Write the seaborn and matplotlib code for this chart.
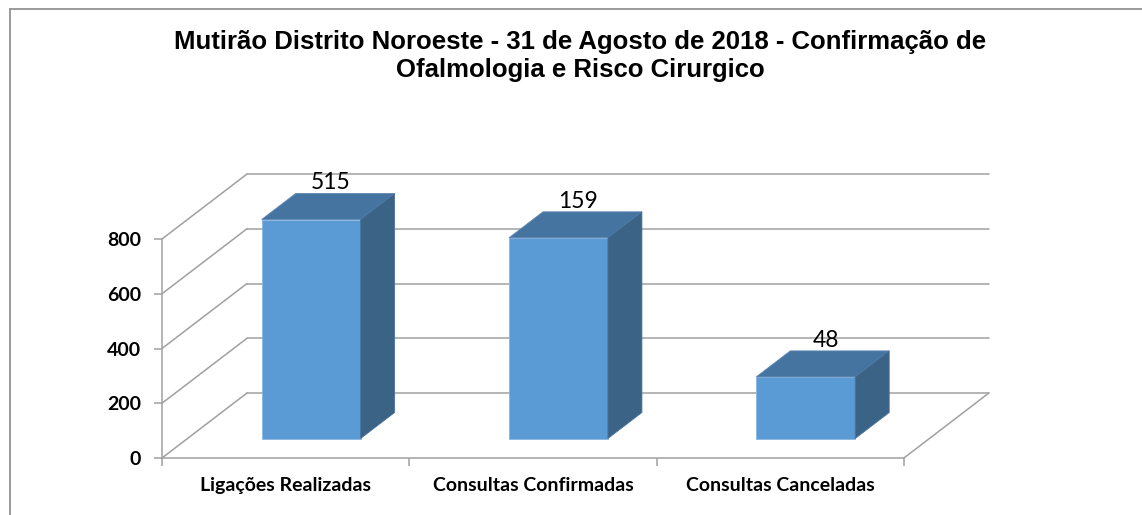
import matplotlib

matplotlib.use("Agg")

import matplotlib.pyplot as plt
import pandas as pd
import seaborn as sns
from matplotlib.lines import Line2D
from matplotlib.patches import Polygon

# --------------------------------------------------------------------------- #
# Dados
# --------------------------------------------------------------------------- #
categorias = ["Ligações Realizadas", "Consultas Confirmadas", "Consultas Canceladas"]
alturas = [800, 733, 225]           # altura das barras (lida no eixo)
rotulos = ["515", "159", "48"]      # rótulos de dados mostrados no gráfico
y_ticks = [0, 200, 400, 600, 800]
titulo = "Mutirão Distrito Noroeste - 31 de Agosto de 2018 - Confirmação de\nOfalmologia e Risco Cirurgico"

# --------------------------------------------------------------------------- #
# Geometria (pixels -> dados)
# --------------------------------------------------------------------------- #
W, H = 1142, 515
PX_CAT = 247.3          # px por categoria
PX_VAL = 219 / 800      # px por unidade
DX = 85 / PX_CAT        # deslocamento de profundidade total (x)
DY = 65 / PX_VAL        # deslocamento de profundidade total (y)
X0, Y0 = 162, 458       # origem do eixo em pixels
XMAX, YMAX = 2.9, 1060

FRENTE = "#5B9BD5"
TOPO = "#4674A0"
LADO = "#3A6386"
GRADE = "#A0A0A0"

sns.set_style("white")
plt.rcParams["font.family"] = ["Lato", "DejaVu Sans"]

fig = plt.figure(figsize=(W / 100, H / 100), dpi=100)
ax = fig.add_axes([
    X0 / W,
    (H - Y0) / H,
    (XMAX + 0.5) * PX_CAT / W,
    YMAX * PX_VAL / H,
])

df = pd.DataFrame({"categoria": categorias, "valor": alturas})
sns.barplot(data=df, x="categoria", y="valor", width=0.4, color=FRENTE,
            saturation=1, ax=ax, zorder=3)

ax.set_xlim(-0.5, XMAX)
ax.set_ylim(0, YMAX)

# paredes: grade de fundo + linhas diagonais da parede lateral
for v in y_ticks:
    ax.plot([-0.5, -0.5 + DX], [v, v + DY], color=GRADE, lw=1.1, zorder=1,
            clip_on=False)
    ax.plot([-0.5 + DX, 2.5 + DX], [v + DY, v + DY], color=GRADE, lw=1.1,
            zorder=1, clip_on=False)
# piso, borda direita
ax.plot([2.5, 2.5 + DX], [0, DY], color=GRADE, lw=1.1, zorder=1)

# barras 3D: desloca a face frontal e acrescenta topo e lateral
f0, prof = 0.3, 0.4
for patch, rot in zip(ax.patches, rotulos):
    x = patch.get_x() + f0 * DX
    w = patch.get_width()
    h = patch.get_height()
    y = f0 * DY
    patch.set_x(x)
    patch.set_y(y)
    patch.set_edgecolor("#8DB5E0")
    patch.set_linewidth(0.6)
    ddx, ddy = prof * DX, prof * DY
    topo = Polygon([(x, y + h), (x + w, y + h), (x + w + ddx, y + h + ddy),
                    (x + ddx, y + h + ddy)], closed=True, facecolor=TOPO,
                   edgecolor="#5B86B3", lw=0.6, zorder=3)
    lado = Polygon([(x + w, y), (x + w + ddx, y + ddy), (x + w + ddx, y + h + ddy),
                    (x + w, y + h)], closed=True, facecolor=LADO,
                   edgecolor="#4A73A0", lw=0.6, zorder=3)
    ax.add_patch(topo)
    ax.add_patch(lado)
    ax.annotate(rot, xy=(x + w / 2 + ddx / 2, y + h + ddy / 2),
                xytext=(2, 17), textcoords="offset points", ha="center",
                va="center", fontsize=16.5, color="#000000", zorder=5,
                annotation_clip=False)

# eixos
for lado_sp in ["top", "right"]:
    ax.spines[lado_sp].set_visible(False)
ax.spines["left"].set_bounds(0, 800)
ax.spines["bottom"].set_bounds(-0.5, 2.5)
for sp in ["left", "bottom"]:
    ax.spines[sp].set_color(GRADE)
    ax.spines[sp].set_linewidth(1.1)

ax.set_yticks(y_ticks)
ax.set_yticklabels([str(t) for t in y_ticks], fontsize=14, fontweight="bold",
                   color="#000000")
ax.tick_params(axis="y", length=6, width=1.1, color=GRADE, pad=9, left=True)

ax.set_xticks([0, 1, 2])
ax.set_xticklabels(categorias, fontsize=14, fontweight="bold", color="#000000")
ax.set_xticks([-0.5, 0.5, 1.5, 2.5], minor=True)
ax.tick_params(axis="x", which="major", length=0, pad=14)
ax.tick_params(axis="x", which="minor", length=6, width=1.1, color=GRADE,
               bottom=True)
ax.set_xlabel("")
ax.set_ylabel("")

fig.text(580 / W, 1 - 56 / H, titulo, ha="center", va="center",
         fontsize=18.5, fontweight="bold", family="Liberation Sans",
         color="#000000", linespacing=1.2)

# moldura do gráfico
fig.add_artist(Line2D([10 / W, 10 / W], [0, 1 - 9 / H], color="#8A8A8A", lw=1.2))
fig.add_artist(Line2D([10 / W, 1], [1 - 9 / H, 1 - 9 / H], color="#8A8A8A", lw=1.2))

fig.savefig("out.png", dpi=100)
plt.close(fig)
